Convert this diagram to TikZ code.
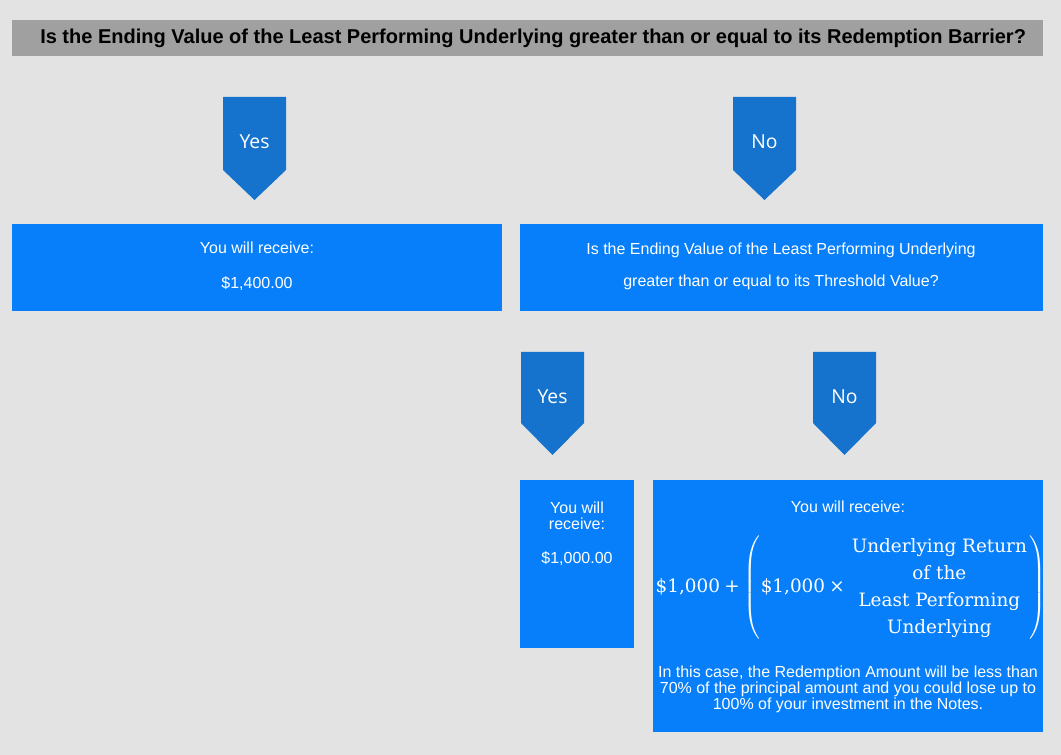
\documentclass[tikz,border=0pt]{standalone}
\usepackage{amsmath}
\usepackage{fontspec}
\setmainfont{Liberation Sans}
\newfontfamily\labelfont{Open Sans}
\newfontfamily\formulafont{DejaVu Serif}
\usetikzlibrary{fit}
\definecolor{pagegray}{RGB}{227,227,227}
\definecolor{bargray}{RGB}{160,160,160}
\definecolor{boxblue}{RGB}{8,127,250}
\definecolor{arrowblue}{RGB}{22,115,205}
\tikzset{box/.style={fill=boxblue,inner sep=0pt},
  boxtext/.style={text=white,align=center,font=\fontsize{12}{12}\selectfont},
  arrowtext/.style={text=white,font=\labelfont\fontsize{14.5}{17}\selectfont}}
\newcommand{\ftxt}[1]{\text{\formulafont #1}}

\begin{document}
\begin{tikzpicture}[x=0.75pt,y=-0.75pt]
\useasboundingbox (0,0) rectangle (1061,755);
\fill[pagegray] (0,0) rectangle (1061,755);
% question bar
\fill[bargray] (12,20) rectangle (1043,56);
\node[anchor=west,inner sep=0pt,font=\bfseries\fontsize{15}{18}\selectfont] (quest) at (40,38) {Is the Ending Value of the Least Performing Underlying greater than or equal to its Redemption Barrier?};
% answer arrows
\fill[arrowblue] (223,97)--(286,97)--(286,170)--(254.5,200)--(223,170)--cycle;
\fill[arrowblue] (733,97)--(796,97)--(796,170)--(764.5,200)--(733,170)--cycle;
\fill[arrowblue] (521,352)--(584,352)--(584,423)--(552.5,455)--(521,423)--cycle;
\fill[arrowblue] (813,352)--(876,352)--(876,423)--(844.5,455)--(813,423)--cycle;
\node[arrowtext] (yesA) at (254.5,142) {Yes};
\node[arrowtext] (noA) at (764.5,142) {No};
\node[arrowtext] (yesB) at (552.5,397) {Yes};
\node[arrowtext] (noB) at (844.5,397) {No};
% boxes
\fill[boxblue] (12,224) rectangle (502,311);
\fill[boxblue] (520,224) rectangle (1043,311);
\node[boxtext] (recA) at (257,266) {You will receive:\\[14.5pt]\$1,400.00};
\node[boxtext] (thresh) at (781,266) {Is the Ending Value of the Least Performing Underlying\\[11.8pt]greater than or equal to its Threshold Value?};
\node[box,fit={(520,480) (634,648)}] (recB) {};
\node[boxtext] (recBtxt) at (577,516) {You will\\receive:};
\node[boxtext] (recBamt) at (577,559) {\$1,000.00};
\node[box,fit={(653,480) (1043,732)}] (recC) {};
\node[boxtext] (recCtxt) at (848,507) {You will receive:};
\node[text=white,inner sep=0pt,font=\fontsize{13.8}{15.5}\selectfont] (payoff) at (851,587.5)
  {\renewcommand{\arraystretch}{1.3}\setlength{\arraycolsep}{2pt}$\ftxt{\$1,000}\mathbin{\ftxt{+}}\left(\ftxt{\$1,000}\mathbin{\ftxt{×}}
  \begin{array}{c}\ftxt{Underlying Return}\\ \ftxt{of the}\\ \ftxt{Least Performing}\\ \ftxt{Underlying}\end{array}\right)$};
\node[boxtext] (recCnote) at (848,689) {In this case, the Redemption Amount will be less than\\70\% of the principal amount and you could lose up to\\100\% of your investment in the Notes.};
\end{tikzpicture}
\end{document}
